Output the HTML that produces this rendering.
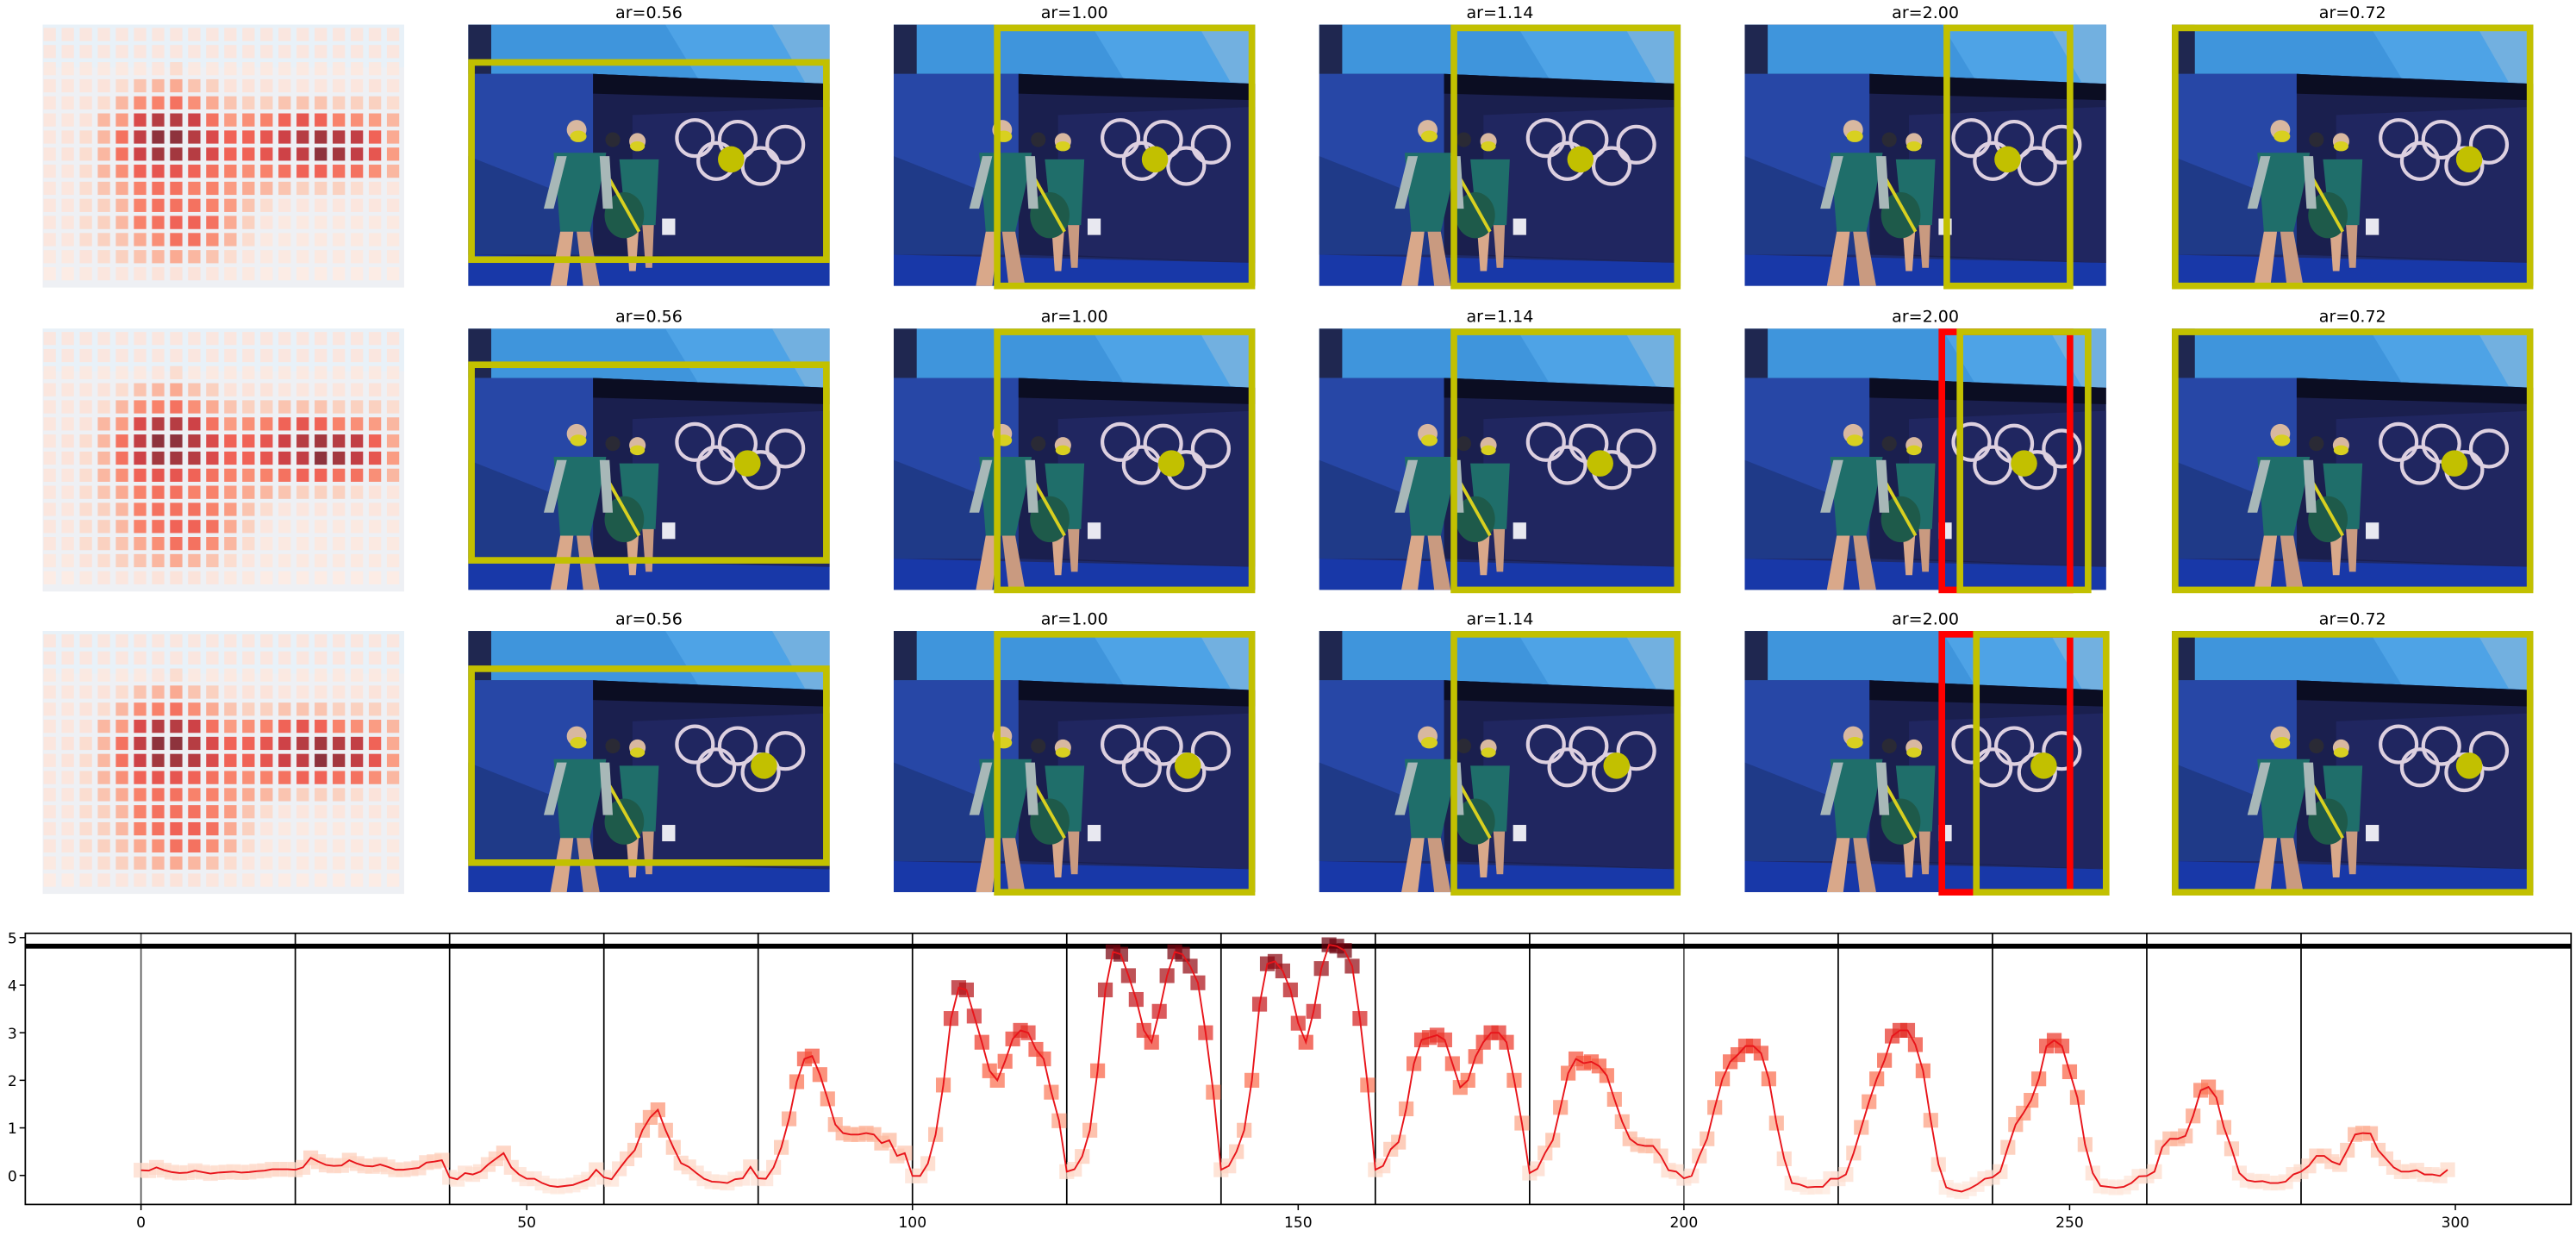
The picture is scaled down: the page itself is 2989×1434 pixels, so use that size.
<!DOCTYPE html>
<html><head><meta charset="utf-8"><style>
html,body{margin:0;padding:0;background:#fff;}
svg{display:block;}
text{font-family:"DejaVu Sans","Liberation Sans",sans-serif;}
</style></head><body>
<svg id="fig" width="2989" height="1434" viewBox="0 0 1568 752.2" preserveAspectRatio="none" xmlns="http://www.w3.org/2000/svg">
<defs>
<symbol id="photo" viewBox="0 0 220 159" preserveAspectRatio="none">
<rect x="0" y="0" width="220" height="159" fill="#1e2a6a"/>
<polygon points="0,0 220,0 220,36 76,30 0,30" fill="#3f95dc"/>
<polygon points="120,0 220,0 220,36 140,33" fill="#4ea3e6"/>
<polygon points="185,0 220,0 220,36 205,35" fill="#72b0e0"/>
<rect x="0" y="0" width="14" height="30" fill="#1f2750"/>
<polygon points="0,30 76,30 76,140 0,140" fill="#2747a6"/>
<polygon points="0,80 76,110 76,140 0,140" fill="#1f3a88"/>
<polygon points="76,30 220,36 220,145 76,140" fill="#1a1f4e"/>
<polygon points="76,30 220,36 220,46 76,42" fill="#0b0d22"/>
<polygon points="100,55 220,50 220,145 100,140" fill="#202660"/>
<polygon points="0,140 220,145 220,159 0,159" fill="#1838a8"/>
<g fill="none" stroke="#ddd0e0" stroke-width="2.2">
<circle cx="138" cy="69" r="11"/><circle cx="164" cy="70" r="11"/><circle cx="193" cy="73" r="11"/>
<circle cx="151" cy="83" r="11"/><circle cx="178" cy="86" r="11"/>
</g>
<polygon points="92,82 116,82 114,122 96,122" fill="#1f6e6a"/>
<polygon points="96,122 104,122 102,150 98,150" fill="#d9a88a"/>
<polygon points="106,122 113,122 112,148 108,148" fill="#c99a80"/>
<circle cx="103" cy="71" r="5" fill="#d8b8a0"/>
<ellipse cx="103" cy="74" rx="4.5" ry="3" fill="#d8d020"/>
<circle cx="88" cy="70" r="4.5" fill="#2a2a35"/>
<ellipse cx="95" cy="116" rx="12" ry="14" fill="#1e5a4a"/>
<path d="M86,94 L104,126" stroke="#d8d020" stroke-width="2"/>
<rect x="118" y="118" width="8" height="10" fill="#e8e8f0"/>
<polygon points="52,78 84,78 80,100 74,126 56,126 54,100" fill="#1f6e6a"/>
<polygon points="54,80 60,80 52,112 46,112" fill="#a8b8b8"/>
<polygon points="80,80 86,80 88,112 82,112" fill="#a8b8b8"/>
<polygon points="56,126 64,126 60,159 50,159" fill="#d9a88a"/>
<polygon points="66,126 74,126 80,159 70,159" fill="#c99a80"/>
<circle cx="66" cy="64" r="6" fill="#d8b8a0"/>
<ellipse cx="67" cy="68" rx="5" ry="3.5" fill="#d8d020"/>
</symbol>
</defs>
<g id="panels"></g>
<g id="chart"></g>
</svg>
<script>
// ---- chart data ----
const frames = [];
for (let i = 0; i < 300; i++) frames.push(i);
const scores = [
0.11,0.10,0.17,0.11,0.07,0.05,0.06,0.10,0.07,0.04,0.06,0.07,0.08,0.06,0.07,0.09,0.10,0.13,0.13,0.13,
0.12,0.17,0.37,0.29,0.22,0.20,0.21,0.32,0.25,0.20,0.19,0.23,0.18,0.12,0.12,0.14,0.16,0.27,0.29,0.32,
-0.04,-0.08,0.05,0.02,0.08,0.23,0.35,0.47,0.17,0.02,-0.07,-0.07,-0.16,-0.22,-0.24,-0.22,-0.20,-0.14,-0.08,0.12,
-0.04,-0.08,0.14,0.35,0.53,0.95,1.22,1.38,0.95,0.59,0.26,0.18,0.05,-0.07,-0.13,-0.14,-0.16,-0.08,-0.06,0.18,
-0.06,-0.07,0.17,0.59,1.19,1.97,2.45,2.51,2.12,1.61,1.07,0.89,0.86,0.86,0.89,0.86,0.68,0.74,0.41,0.47,
-0.01,-0.01,0.25,0.86,1.90,3.30,3.95,3.90,3.35,2.80,2.20,2.00,2.40,2.87,3.05,3.00,2.65,2.45,1.75,1.15,
0.08,0.13,0.40,0.95,2.20,3.90,4.70,4.65,4.20,3.70,3.05,2.80,3.45,4.20,4.70,4.65,4.40,4.05,3.00,1.75,
0.12,0.20,0.50,0.95,2.00,3.60,4.45,4.50,4.30,3.90,3.20,2.80,3.45,4.35,4.85,4.82,4.73,4.40,3.30,1.90,
0.12,0.20,0.55,0.70,1.40,2.35,2.85,2.90,2.95,2.85,2.35,1.85,2.00,2.50,2.80,3.00,3.00,2.80,2.00,1.10,
0.05,0.14,0.47,0.74,1.43,2.15,2.45,2.36,2.39,2.30,2.10,1.60,1.13,0.77,0.65,0.62,0.62,0.41,0.11,0.08,
-0.06,-0.01,0.41,0.77,1.43,2.03,2.39,2.54,2.72,2.72,2.57,2.03,1.10,0.35,-0.16,-0.19,-0.25,-0.24,-0.24,-0.07,
-0.07,0.02,0.47,1.01,1.55,2.03,2.42,2.93,3.05,3.05,2.75,2.20,1.16,0.23,-0.25,-0.31,-0.34,-0.28,-0.19,-0.07,
-0.04,0.08,0.59,1.07,1.31,1.58,2.03,2.72,2.84,2.72,2.18,1.64,0.65,0.05,-0.22,-0.24,-0.26,-0.24,-0.16,-0.02,
-0.01,0.08,0.59,0.77,0.77,0.83,1.25,1.79,1.86,1.64,1.01,0.56,0.05,-0.10,-0.13,-0.12,-0.16,-0.16,-0.13,0.02,
0.08,0.20,0.41,0.41,0.29,0.23,0.53,0.86,0.89,0.88,0.53,0.35,0.17,0.08,0.08,0.11,0.02,0.02,-0.01,0.12
];
const xTicks = [0, 50, 100, 150, 200, 250, 300];
const yTicks = [0, 1, 2, 3, 4, 5];
const segmentBounds = [0,20,40,60,80,100,120,140,160,180,200,220,240,260,280];
const thresholdValue = [4.82];
const xDomain = [-15, 315];
const yDomain = [-0.61, 5.09];
// ---- panel data ----
const panelTitles = ["ar=0.56","ar=1.00","ar=1.14","ar=2.00","ar=0.72"];
const dotX = [[160,159,159,160,181],[170,169,171,170,172],[180,179,181,182,181]];
const heat = [
[.1,.1,.1,.1,.1,.1,.1,.1,.1,.1,.1,.1,.1,.1,.1,.1,.1,.1,.1,.1],
[.1,.1,.1,.1,.1,.1,.1,.1,.1,.1,.1,.1,.1,.1,.1,.1,.1,.1,.1,.1],
[.08,.08,.08,.08,.08,.08,.1,.15,.08,.08,.08,.08,.08,.08,.08,.08,.08,.08,.08,.08],
[.1,.1,.1,.12,.15,.25,.3,.35,.25,.2,.12,.12,.12,.1,.1,.1,.1,.1,.12,.1],
[.1,.1,.12,.15,.3,.45,.5,.55,.45,.35,.25,.2,.2,.25,.25,.25,.2,.2,.2,.15],
[.1,.1,.12,.3,.4,.7,.85,.85,.75,.55,.4,.45,.5,.6,.65,.6,.5,.45,.4,.3],
[.1,.12,.15,.3,.55,.8,.95,.95,.85,.7,.6,.6,.65,.75,.85,.9,.85,.8,.6,.35],
[.1,.12,.15,.3,.55,.75,.9,.9,.85,.7,.6,.6,.65,.75,.8,.95,.9,.8,.65,.4],
[.1,.1,.15,.3,.45,.6,.65,.65,.6,.55,.5,.45,.5,.55,.6,.6,.55,.55,.45,.3],
[.1,.1,.15,.25,.35,.5,.55,.55,.5,.5,.4,.35,.3,.25,.2,.2,.2,.15,.12,.1],
[.1,.1,.15,.2,.3,.5,.55,.55,.55,.5,.4,.25,.15,.1,.1,.1,.1,.1,.1,.1],
[.1,.1,.15,.2,.3,.5,.55,.6,.6,.55,.35,.2,.1,.08,.08,.08,.08,.08,.08,.08],
[.1,.1,.15,.2,.25,.35,.45,.55,.55,.45,.3,.15,.08,.08,.08,.08,.08,.08,.08,.08],
[.08,.08,.12,.15,.2,.25,.3,.35,.3,.25,.15,.1,.08,.08,.08,.08,.08,.08,.08,.08],
[.06,.06,.08,.1,.1,.1,.12,.12,.12,.1,.08,.08,.06,.06,.06,.06,.06,.06,.06,.06]
];

const NS = "http://www.w3.org/2000/svg";
function mk(tag, attrs, parent) {
  const e = document.createElementNS(NS, tag);
  for (const k in attrs) e.setAttribute(k, attrs[k]);
  parent.appendChild(e);
  return e;
}
const REDS = [[255,245,240],[254,224,210],[252,187,161],[252,146,114],[251,106,74],[239,59,44],[203,24,29],[165,15,21],[103,0,13]];
function reds(t) {
  t = Math.max(0, Math.min(1, t));
  const p = t * 8, i = Math.min(7, Math.floor(p)), f = p - i;
  const a = REDS[i], b = REDS[i + 1];
  return "rgb(" + a.map((v, k) => Math.round(v + (b[k] - v) * f)).join(",") + ")";
}

// ---- panels ----
const panels = document.getElementById("panels");
const rowTops = [15, 200, 384];
const colLefts = [285, 544, 803, 1062, 1322];
const PW = 220, PH = 159;
const yellowBoxes = [
  [[0,21,220,124],[61,0,159,159],[80,0,140,159],[121,0,79,159],[0,0,220,159]],
  [[0,20,220,123],[61,0,159,159],[80,0,140,159],[129,0,82,159],[0,0,220,159]],
  [[0,21,220,122],[61,0,159,159],[80,0,140,159],[139,0,83,159],[0,0,220,159]]
];
for (let r = 0; r < 3; r++) {
  const top = rowTops[r];
  const hg = mk("g", {}, panels);
  
  
  mk("rect", {x: 26, y: top, width: 220, height: 160, fill: "#eef0f4"}, hg);
  mk("rect", {x: 26, y: top, width: 220, height: 26, fill: "#e8f1f8"}, hg);
  for (let i = 0; i < heat.length; i++) {
    for (let j = 0; j < heat[i].length; j++) {
      const c = mk("rect", {x: 26.5 + j * 11, y: top + 2 + i * 10.4, width: 7.5, height: 8, fill: reds(heat[i][j] * 1.02), opacity: 0.8}, hg);
      
      
    }
  }
  for (let c = 0; c < 5; c++) {
    const x0 = colLefts[c];
    const g = mk("g", {}, panels);
    
    
    const t = mk("text", {x: x0 + PW / 2, y: top - 4, "text-anchor": "middle", "font-size": "10", fill: "#000"}, g);
    t.textContent = panelTitles[c];
    
    
    const u = mk("use", {href: "#photo", x: x0, y: top, width: PW, height: PH}, g);
    
    
    const dot = mk("circle", {cx: x0 + dotX[r][c], cy: top + 82, r: 8, fill: "#c2c000"}, g);
    
    
    if (c === 3 && r > 0) {
      const rb = mk("rect", {x: x0 + 118 + 2, y: top + 2, width: 82 - 4, height: PH - 2, fill: "none", stroke: "#ff0000", "stroke-width": 4}, g);
      
      
    }
    const b = yellowBoxes[r][c];
    const yb = mk("rect", {x: x0 + b[0] + 2, y: top + b[1] + 2, width: b[2] - 4, height: b[3] - 4 + (b[1] === 0 ? 2 : 0), fill: "none", stroke: "#c2c000", "stroke-width": 4}, g);
    
    
  }
}

// ---- chart ----
const chart = document.getElementById("chart");
const AX = {l: 15.4, r: 1565, t: 568, b: 733};
const sx = v => AX.l + (v - xDomain[0]) / (xDomain[1] - xDomain[0]) * (AX.r - AX.l);
const sy = v => AX.b - (v - yDomain[0]) / (yDomain[1] - yDomain[0]) * (AX.b - AX.t);
const clip = mk("clipPath", {id: "plotclip"}, chart);
mk("rect", {x: AX.l, y: AX.t, width: AX.r - AX.l, height: AX.b - AX.t}, clip);
const plot = mk("g", {"clip-path": "url(#plotclip)"}, chart);
segmentBounds.forEach(v => {
  const l = mk("line", {x1: sx(v), x2: sx(v), y1: AX.t, y2: AX.b, stroke: v === 0 || v === 200 ? "#555" : "#000", "stroke-width": 0.9}, plot);
  
  
});
thresholdValue.forEach(v => {
  const l = mk("line", {x1: AX.l, x2: AX.r, y1: sy(v), y2: sy(v), stroke: "#000", "stroke-width": 3}, plot);
  
  
});
const vmin = -0.5, vmax = 4.9;
frames.forEach((f, i) => {
  const v = scores[i];
  const t = (v - vmin) / (vmax - vmin);
  const m = mk("rect", {x: sx(f) - 4.5, y: sy(v) - 4.5, width: 9, height: 9, fill: reds(0.04 + t * 0.96), opacity: 0.72}, plot);
  
  
});
const line = mk("polyline", {points: frames.map((f, i) => sx(f).toFixed(2) + "," + sy(scores[i]).toFixed(2)).join(" "), fill: "none", stroke: "#e8141a", "stroke-width": 1}, plot);


const frame = mk("rect", {x: AX.l, y: AX.t, width: AX.r - AX.l, height: AX.b - AX.t, fill: "none", stroke: "#000", "stroke-width": 0.9}, chart);


xTicks.forEach(v => {
  const tk = mk("line", {x1: sx(v), x2: sx(v), y1: AX.b, y2: AX.b + 3.5, stroke: "#000", "stroke-width": 0.8}, chart);
  
  
  const tl = mk("text", {x: sx(v), y: AX.b + 14, "text-anchor": "middle", "font-size": "9", fill: "#000"}, chart);
  tl.textContent = String(v);
  
  
});
yTicks.forEach(v => {
  const tk = mk("line", {x1: AX.l - 3.5, x2: AX.l, y1: sy(v), y2: sy(v), stroke: "#000", "stroke-width": 0.8}, chart);
  
  
  const tl = mk("text", {x: AX.l - 5, y: sy(v) + 3.5, "text-anchor": "end", "font-size": "9", fill: "#000"}, chart);
  tl.textContent = String(v);
  
  
});
</script>
</body></html>
